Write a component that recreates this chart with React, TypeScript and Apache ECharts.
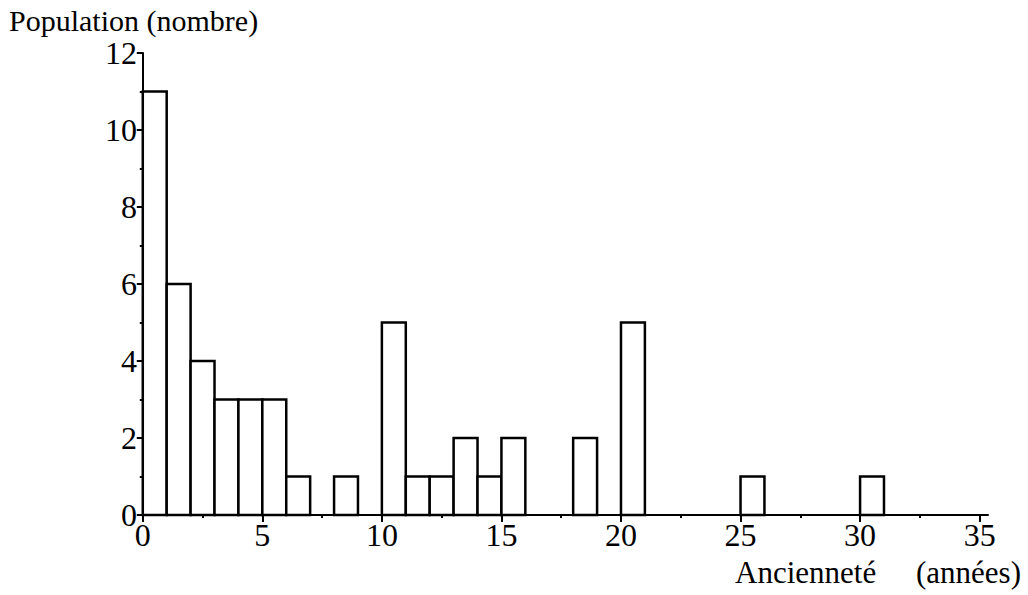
import React, { useEffect, useRef } from "react";
import * as echarts from "echarts";

// Histogram: start of each 1-year bin and its count (empty bins omitted)
const binStarts = [0, 1, 2, 3, 4, 5, 6, 8, 10, 11, 12, 13, 14, 15, 18, 20, 25, 30];
const counts = [11, 6, 4, 3, 3, 3, 1, 1, 5, 1, 1, 2, 1, 2, 2, 5, 1, 1];
const binWidth = 1;

const xMajorTicks = [0, 5, 10, 15, 20, 25, 30, 35];
const xMinorTicks = [2.5, 7.5, 12.5, 17.5, 22.5, 27.5, 32.5];
const yMajorTicks = [0, 2, 4, 6, 8, 10, 12];
const yMinorTicks = [1, 3, 5, 7, 9, 11];

const yTitle = "Population (nombre)";
const xTitle = "Ancienneté";
const xUnit = "(années)";

const FONT = "'Liberation Serif', 'DejaVu Serif', serif";

export default function App() {
  const ref = useRef<HTMLDivElement>(null);

  useEffect(() => {
    document.body.style.margin = "0";
    if (!ref.current) return;
    const chart = echarts.init(ref.current, null, { renderer: "svg" });

    const data = binStarts.map((s, i) => [s, s + binWidth, counts[i]]);

    const xBase = {
      type: "value",
      min: -0.2,
      max: 35.35,
      gridIndex: 0,
      position: "bottom",
      splitLine: { show: false },
    };
    const yBase = {
      type: "value",
      min: 0,
      max: 12,
      gridIndex: 0,
      position: "left",
      splitLine: { show: false },
    };

    chart.setOption({
      animation: false,
      backgroundColor: "#ffffff",
      grid: { left: 138, right: 40, top: 53, bottom: 80, containLabel: false },
      xAxis: [
        {
          ...xBase,
          axisLine: { show: true, lineStyle: { color: "#000", width: 2 } },
          axisTick: {
            show: true,
            customValues: xMajorTicks,
            length: 7,
            inside: false,
            lineStyle: { color: "#000", width: 2 },
          },
          axisLabel: {
            show: true,
            customValues: xMajorTicks,
            color: "#000",
            fontFamily: FONT,
            fontSize: 32,
            margin: 4,
            formatter: (v: number) => String(Math.round(v)),
          },
        },
        {
          ...xBase,
          axisLine: { show: false },
          axisTick: {
            show: true,
            customValues: xMinorTicks,
            length: 3,
            lineStyle: { color: "#000", width: 2 },
          },
          axisLabel: { show: false },
        },
      ],
      yAxis: [
        {
          ...yBase,
          axisLine: { show: true, lineStyle: { color: "#000", width: 2 } },
          axisTick: {
            show: true,
            customValues: yMajorTicks,
            length: 6,
            lineStyle: { color: "#000", width: 2 },
          },
          axisLabel: {
            show: true,
            customValues: yMajorTicks,
            color: "#000",
            fontFamily: FONT,
            fontSize: 32,
            margin: 1,
            formatter: (v: number) => String(Math.round(v)),
          },
        },
        {
          ...yBase,
          axisLine: { show: false },
          axisTick: {
            show: true,
            customValues: yMinorTicks,
            length: 3,
            lineStyle: { color: "#000", width: 2 },
          },
          axisLabel: { show: false },
        },
      ],
      series: [
        {
          type: "custom",
          xAxisIndex: 0,
          yAxisIndex: 0,
          data,
          encode: { x: [0, 1], y: 2 },
          renderItem: (params: any, api: any) => {
            const p0 = api.coord([api.value(0), api.value(2)]);
            const p1 = api.coord([api.value(1), 0]);
            return {
              type: "rect",
              shape: { x: p0[0], y: p0[1], width: p1[0] - p0[0], height: p1[1] - p0[1] },
              style: { fill: "#fff", stroke: "#000", lineWidth: 2.5 },
            };
          },
        },
      ],
      graphic: [
        {
          type: "text",
          left: 9,
          top: 5,
          style: { text: yTitle, fill: "#000", font: `30px ${FONT}` },
        },
        {
          type: "text",
          left: 735,
          top: 557,
          style: { text: xTitle, fill: "#000", font: `31px ${FONT}` },
        },
        {
          type: "text",
          right: 7,
          top: 557,
          style: { text: xUnit, fill: "#000", font: `31px ${FONT}` },
        },
      ],
    });

    return () => chart.dispose();
  }, []);

  return <div ref={ref} style={{ width: 1028, height: 595 }} />;
}
